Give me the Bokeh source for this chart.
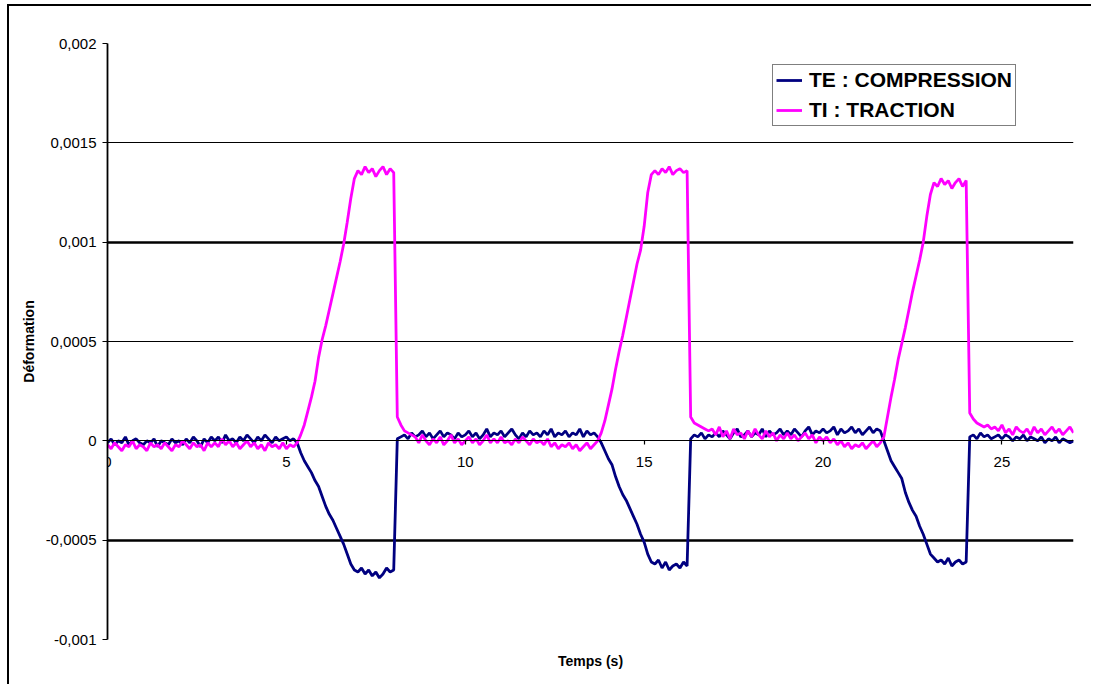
import numpy as np
from bokeh.plotting import figure
from bokeh.models import (FixedTicker, Grid, Legend, LegendItem, Title, Range1d)
from bokeh.embed import file_html
from bokeh.resources import INLINE

# ---------------- data (strain values in units of 1e-5) ----------------
te_1e5 = [
    # 0.0 - 5.2
    -1, 1, -2, 0, -1, 2, -2, 0, 1, -1,
    -2, 0, -1, 1, -3, 0, -1, -2, 1, -1,
    0, -2, 1, -1, 2, 0, -3, 1, -1, 2,
    0, 2, -1, 3, 0, 1, -1, 2, 0, 3,
    1, -1, 2, 0, 3, 1, -1, 2, 0, 1,
    2, 0, 1,
    # 5.3 - 6.9
    -1, -6, -10, -13, -16, -20, -23, -28, -33, -37, -40, -44, -48, -52, -57, -62, -65,
    # 7.0 - 8.0
    -66, -64, -67, -65, -68, -66, -69, -67, -64, -66, -65,
    # 8.1 - 9.9
    1, 2, 3, 1, 4, 2, 3, 5, 2, 4, 1, 3, 5, 2, 4, 3, 1, 4, 2,
    # 10.0 - 12.9
    3, 5, 2, 4, 1, 3, 6, 2, 4, 3,
    5, 2, 4, 6, 3, 1, 4, 2, 5, 3,
    4, 2, 5, 3, 6, 2, 4, 3, 5, 2,
    # 13.0 - 13.7
    4, 3, 6, 2, 5, 3, 4, 2,
    # 13.8 - 15.2
    -1, -5, -9, -12, -18, -23, -27, -30, -34, -38, -42, -47, -51, -57, -61,
    # 15.3 - 16.2
    -62, -60, -64, -61, -65, -63, -62, -64, -61, -63,
    # 16.3 - 16.9
    1, 3, 2, 4, 1, 3, 2,
    # 17.0 - 20.9
    4, 2, 5, 3, 1, 4, 6, 2, 3, 5,
    2, 4, 3, 6, 2, 5, 3, 4, 6, 3,
    5, 3, 6, 4, 2, 5, 7, 3, 5, 4,
    6, 4, 5, 7, 3, 6, 4, 5, 7, 4,
    # 21.0 - 21.6
    6, 3, 5, 7, 4, 6, 5,
    # 21.7 - 23.0
    0, -5, -10, -13, -16, -19, -26, -31, -35, -38, -43, -47, -52, -57,
    # 23.1 - 24.0
    -59, -61, -60, -62, -59, -63, -61, -60, -62, -61,
    # 24.1 - 24.9
    2, 3, 1, 4, 2, 3, 1, 2, 3,
    # 25.0 - 27.0
    1, 3, 2, 0, 2, 1, 3, 0, 2, 1,
    0, 2, -1, 1, 0, 2, -1, 1, 0, -1, 0,
]

ti_1e5 = [
    # 0.0 - 5.3
    -2, -4, -1, -3, -5, -2, -3, 0, -4, -2,
    -3, -5, -1, -3, -2, -4, -1, -3, -5, -2,
    -3, 0, -2, -4, -1, -3, -2, -5, -1, -3,
    -1, -3, 1, -2, 0, -3, -1, -4, -2, 0,
    -3, -1, -4, -2, -5, -1, -3, -2, -4, -1,
    -4, -2, -3, -1,
    # 5.4 - 6.9
    3, 8, 15, 22, 30, 42, 51, 58, 66, 74, 82, 90, 99, 110, 122, 132,
    # 7.0 - 8.0
    136, 134, 138, 135, 137, 133, 136, 138, 134, 137, 135,
    # 8.1 - 8.5
    12, 8, 5, 4, 3,
    # 8.6 - 9.9
    2, -1, 3, 0, -2, 1, -1, 2, -2, 0, 3, -1, 1, -2,
    # 10.0 - 12.9
    0, 2, -1, 1, -2, 0, 3, -1, 1, -1,
    2, -1, 0, -2, 1, -1, 2, 0, -2, 1,
    -1, 0, -2, 1, -3, -1, -4, -2, -3, -1,
    # 13.0 - 13.7
    -4, -2, -5, -3, -1, -4, -2, 0,
    # 13.8 - 15.2
    4, 10, 18, 26, 36, 45, 53, 62, 71, 80, 89, 96, 108, 125, 134,
    # 15.3 - 16.2
    136, 134, 137, 135, 138, 134, 136, 137, 135, 136,
    # 16.3 - 16.8
    12, 9, 8, 7, 6, 5,
    # 16.9 - 21.6
    6,
    3, 7, 2, 5, 1, 6, 3, 4, 1, 5,
    2, 6, 3, 1, 5, 2, 4, 0, 3, 1,
    4, 1, 3, 0, 2, 4, 1, 3, -1, 2,
    0, 2, -1, 1, -2, 0, -3, -1, -4, -2,
    -3, -1, -4, -2, 0, -3, -1,
    # 21.7 - 23.0
    2, 12, 22, 31, 41, 49, 57, 66, 75, 83, 91, 100, 113, 124,
    # 23.1 - 24.0
    130, 128, 132, 129, 131, 127, 130, 132, 128, 131,
    # 24.1 - 24.7
    14, 11, 9, 8, 7, 8, 6,
    # 24.8 - 27.0
    7, 5, 8, 4, 6, 3, 7, 5, 4, 6, 3, 7, 4, 6, 3, 5, 7, 4, 6, 3, 5, 7, 4,
]

temps = [round(0.1 * i, 1) for i in range(len(te_1e5))]
te = [v * 1e-5 for v in te_1e5]
ti = [v * 1e-5 for v in ti_1e5]

x_ticks = [0, 5, 10, 15, 20, 25]
y_ticks = [-0.001, -0.0005, 0, 0.0005, 0.001, 0.0015, 0.002]
y_tick_labels = ["-0,001", "-0,0005", "0", "0,0005", "0,001", "0,0015", "0,002"]
y_thin_grid = [-0.001, 0, 0.0005, 0.0015, 0.002]
y_thick_grid = [-0.0005, 0.001]

series_labels = ["TE : COMPRESSION", "TI : TRACTION"]
series_colors = ["#000080", "#FF00FF"]

FONT = "Liberation Sans"

p = figure(width=1084, height=680, x_range=Range1d(0, 27), y_range=Range1d(-0.001, 0.002),
           output_backend="svg", toolbar_location=None,
           min_border_left=98, min_border_top=37, min_border_right=20, min_border_bottom=47,
           background_fill_color="white", border_fill_color="white",
           styles={"margin-left": "7px", "margin-top": "4px",
                   "border-left": "2px solid #000000", "border-top": "2px solid #000000"})
p.outline_line_color = None

# grids
p.xgrid.visible = False
p.ygrid.ticker = FixedTicker(ticks=y_thin_grid)
p.ygrid.grid_line_color = "black"
p.ygrid.grid_line_width = 1.2
thick = Grid(dimension=1, ticker=FixedTicker(ticks=y_thick_grid),
             grid_line_color="black", grid_line_width=2.4)
p.add_layout(thick)

# y axis
p.yaxis.ticker = FixedTicker(ticks=y_ticks)
p.yaxis.major_label_overrides = dict(zip(y_ticks, y_tick_labels))
p.yaxis.minor_tick_line_color = None
p.yaxis.major_tick_in = 0
p.yaxis.major_tick_out = 5
p.yaxis.major_tick_line_color = "black"
p.yaxis.major_tick_line_width = 1.2
p.yaxis.axis_line_color = "black"
p.yaxis.axis_line_width = 1.8
p.yaxis.major_label_text_font = FONT
p.yaxis.major_label_text_font_size = "15px"
p.yaxis.major_label_text_color = "black"
p.yaxis.major_label_standoff = 6
p.yaxis.axis_label = "Déformation"
p.yaxis.axis_label_text_font = FONT
p.yaxis.axis_label_text_font_size = "14px"
p.yaxis.axis_label_text_font_style = "bold"
p.yaxis.axis_label_text_color = "black"
p.yaxis.axis_label_standoff = 6

# x axis crossing at zero
p.xaxis.fixed_location = 0
p.xaxis.ticker = FixedTicker(ticks=x_ticks)
p.xaxis.minor_tick_line_color = None
p.xaxis.major_tick_in = 0
p.xaxis.major_tick_out = 4
p.xaxis.major_tick_line_color = "black"
p.xaxis.major_tick_line_width = 1.2
p.xaxis.axis_line_color = "black"
p.xaxis.major_label_text_font = FONT
p.xaxis.major_label_text_font_size = "15px"
p.xaxis.major_label_text_color = "black"
p.xaxis.major_label_standoff = 12

p.add_layout(Title(text="Temps (s)", align="center", text_font=FONT, text_font_size="14px",
                   text_font_style="bold", text_color="black", standoff=22), "below")

r_te = p.line(temps, te, line_color=series_colors[0], line_width=2.8)
r_ti = p.line(temps, ti, line_color=series_colors[1], line_width=2.8)

legend = Legend(items=[LegendItem(label=series_labels[0], renderers=[r_te]),
                       LegendItem(label=series_labels[1], renderers=[r_ti])],
                location=(665, 513), orientation="vertical",
                label_text_font=FONT, label_text_font_style="bold", label_text_font_size="21px",
                label_text_color="black", glyph_width=26, glyph_height=20, label_height=20,
                spacing=6, padding=3, margin=0, label_standoff=7,
                border_line_color="black", border_line_width=1.5,
                background_fill_color="white", background_fill_alpha=1)
p.add_layout(legend)

open("out.html", "w").write(file_html(p, INLINE))
